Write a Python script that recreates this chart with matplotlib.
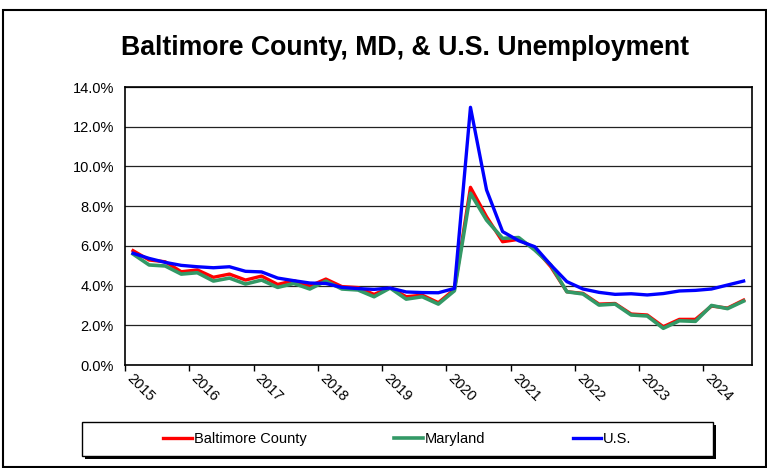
import numpy as np
import matplotlib
matplotlib.use("Agg")
import matplotlib.pyplot as plt
import matplotlib.transforms as mtransforms
from matplotlib.patches import Rectangle
from matplotlib.ticker import FuncFormatter

# quarterly, 2015 Q1 .. 2024 Q3
years = ['2015', '2016', '2017', '2018', '2019', '2020', '2021', '2022', '2023', '2024']

baltimore = [5.76, 5.29, 5.20, 4.70, 4.79, 4.42, 4.58, 4.28, 4.48, 4.06,
             4.25, 3.98, 4.33, 3.95, 3.90, 3.56, 3.90, 3.44, 3.52, 3.14,
             3.81, 8.95, 7.47, 6.21, 6.33, 5.88, 4.95, 3.69, 3.61, 3.07,
             3.10, 2.57, 2.52, 1.93, 2.30, 2.30, 2.97, 2.87, 3.27]
maryland = [5.59, 5.04, 4.99, 4.58, 4.65, 4.23, 4.38, 4.08, 4.28, 3.91,
            4.11, 3.83, 4.23, 3.83, 3.78, 3.44, 3.88, 3.32, 3.44, 3.07,
            3.74, 8.65, 7.30, 6.38, 6.42, 5.79, 5.04, 3.69, 3.58, 3.02,
            3.07, 2.52, 2.47, 1.85, 2.23, 2.20, 3.00, 2.84, 3.22]
us = [5.63, 5.37, 5.17, 5.02, 4.95, 4.90, 4.95, 4.72, 4.69, 4.38,
      4.25, 4.13, 4.11, 3.91, 3.85, 3.81, 3.88, 3.68, 3.65, 3.64,
      3.86, 12.98, 8.82, 6.72, 6.26, 5.96, 5.04, 4.20, 3.83, 3.66,
      3.56, 3.59, 3.53, 3.60, 3.73, 3.76, 3.83, 4.03, 4.23]

plt.rcParams['font.family'] = ['Liberation Sans', 'DejaVu Sans']

fig = plt.figure(figsize=(7.67, 4.68), dpi=100)
ax = fig.add_axes([0.163, 0.220, 0.817, 0.594])

x = np.arange(len(us))
ax.plot(x, baltimore, color='#ff0000', lw=2.4, label='Baltimore County', zorder=3)
ax.plot(x, maryland, color='#339966', lw=2.6, label='Maryland', zorder=4)
ax.plot(x, us, color='#0000ff', lw=2.4, label='U.S.', zorder=5)

ax.set_xlim(-0.5, len(us) - 0.5)
ax.set_ylim(0, 14)
ax.set_yticks(np.arange(0, 14.1, 2))
ax.yaxis.set_major_formatter(FuncFormatter(lambda v, p: '%.1f%%' % v))
ax.grid(axis='y', color='#222222', lw=0.9)
ax.set_axisbelow(True)

xt = np.arange(-0.5, len(us) - 0.5, 4)
ax.set_xticks(xt)
ax.set_xticklabels(years, rotation=-45, ha='left', va='center', rotation_mode='anchor')
ax.tick_params(axis='x', length=4, width=1, labelsize=10.5, pad=4)
ax.tick_params(axis='y', length=0, labelsize=10.5, pad=8)
shift = mtransforms.ScaledTranslation(4 / 100, 0, fig.dpi_scale_trans)
for lab in ax.get_xticklabels():
    lab.set_transform(lab.get_transform() + shift)
for s in ax.spines.values():
    s.set_linewidth(1.2)

fig.text(0.528, 0.897, 'Baltimore County, MD, & U.S. Unemployment',
         ha='center', va='center', fontsize=19.2, fontweight='bold')

# legend: box + shadow drawn on the figure, entries from ax.legend
fig.patches.append(Rectangle((85 / 767, 1 - 459 / 468), 631 / 767, 34 / 468,
                             transform=fig.transFigure, facecolor='black',
                             edgecolor='none', zorder=-2))
fig.patches.append(Rectangle((82 / 767, 1 - 456 / 468), 631 / 767, 34 / 468,
                             transform=fig.transFigure, facecolor='white',
                             edgecolor='black', lw=1.0, zorder=-1))
leg = ax.legend(loc='center', bbox_to_anchor=(397.5 / 767, 1 - 439 / 468),
                bbox_transform=fig.transFigure, ncol=3, frameon=False,
                fontsize=10.5, handlelength=1.95, handletextpad=0.15,
                columnspacing=6.0)

# outer frame
fig.patches.append(Rectangle((3 / 767, 0.002), 0.995, 1 - 10 / 468 - 0.002,
                             transform=fig.transFigure, fill=False,
                             edgecolor='black', lw=1.5, zorder=-3))

fig.savefig('out.png', dpi=100)
